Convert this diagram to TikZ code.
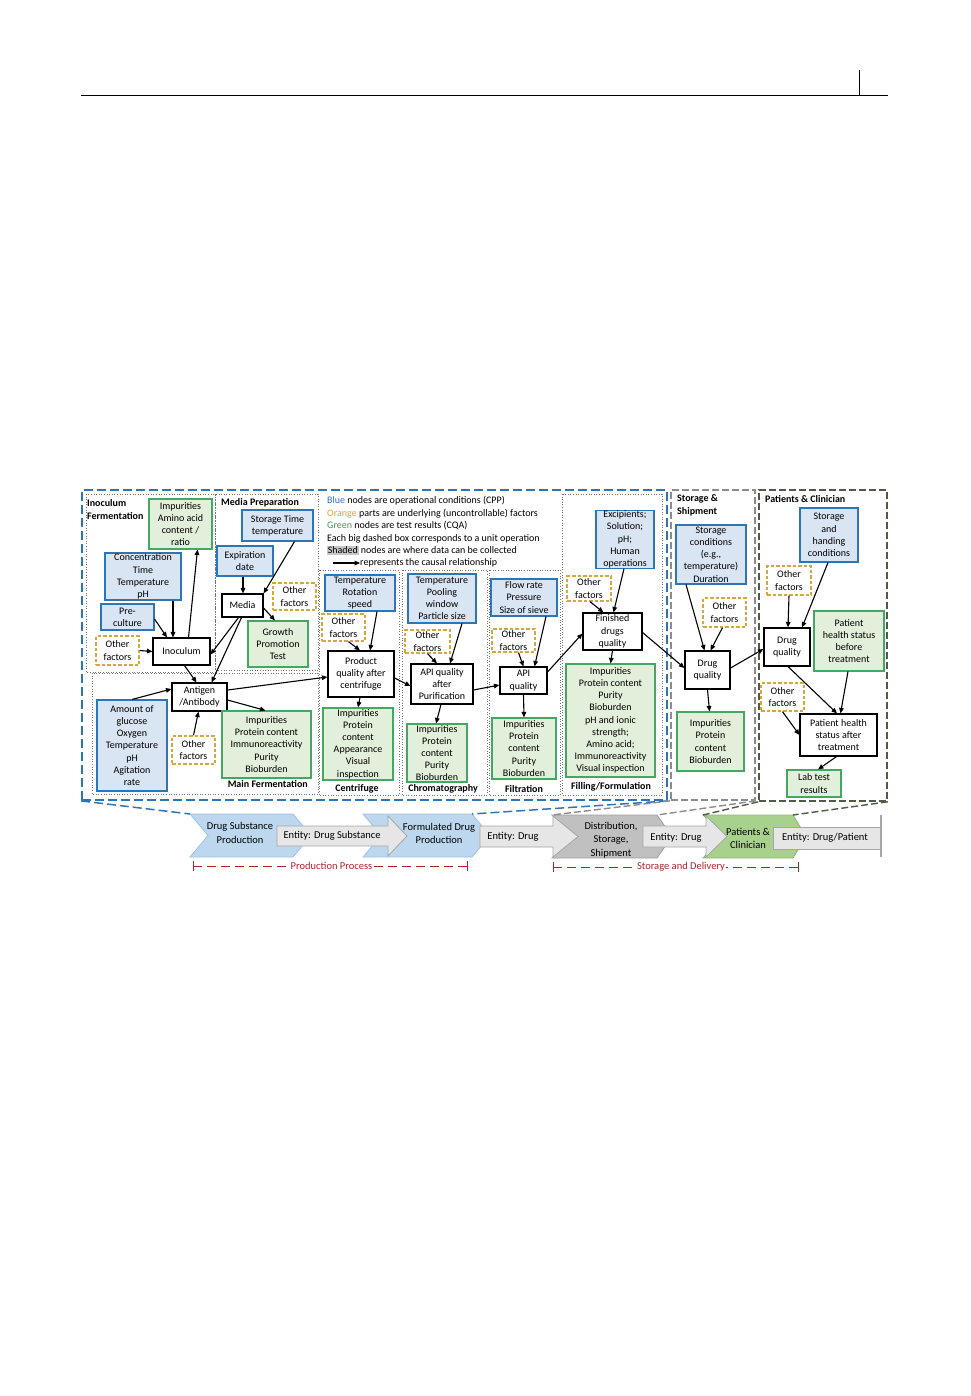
\documentclass[tikz,border=0pt]{standalone}
\usepackage{fontspec}
\setmainfont{Carlito}
\usetikzlibrary{arrows.meta}
\definecolor{bdraw}{HTML}{2E75B6}
\definecolor{bfill}{HTML}{DAE5F3}
\definecolor{gdraw}{HTML}{45A862}
\definecolor{gfill}{HTML}{E2EFDA}
\definecolor{odraw}{HTML}{D6A83A}
\definecolor{legblue}{HTML}{2E75B6}
\definecolor{legorange}{HTML}{E3A135}
\definecolor{leggreen}{HTML}{3D9B5C}
\definecolor{shade}{HTML}{C8C8C8}
\definecolor{bigblue}{HTML}{2E75B6}
\definecolor{biggray}{HTML}{8C8C8C}
\definecolor{bigolive}{HTML}{4F5B47}
\definecolor{chevblue}{HTML}{BDD7EE}
\definecolor{chevbluedraw}{HTML}{9DC3E6}
\definecolor{chevgray}{HTML}{C0C0C0}
\definecolor{chevgraydraw}{HTML}{A0A0A0}
\definecolor{chevgreen}{HTML}{A9D18E}
\definecolor{chevgreendraw}{HTML}{8DBB6E}
\definecolor{entfill}{HTML}{E7E6E6}
\definecolor{entdraw}{HTML}{A6A6A6}
\definecolor{dimred}{HTML}{A8262C}
\tikzset{
 base/.style={font=\fontsize{10}{12.2}\selectfont, align=center, inner sep=0pt, line width=1.1pt},
 sz/.style 2 args={minimum width=#1pt, minimum height=#2pt},
 bn/.style={base, draw=bdraw, fill=bfill},
 gn/.style={base, draw=gdraw, fill=gfill},
 on/.style={base, draw=odraw, fill=white, dash pattern=on 3.5pt off 2pt, line width=1.3pt},
 wn/.style={base, draw=black, fill=white},
 arr/.style={-{Triangle[length=5.5pt,width=4.6pt]}, line width=1.1pt},
 ttl/.style={font=\fontsize{10}{12.8}\selectfont\bfseries, inner sep=0pt, align=left},
 leg/.style={font=\fontsize{10}{12}\selectfont, inner sep=0pt, anchor=west},
 dotbox/.style={draw=black!55, dotted, line width=0.6pt},
 chevtxt/.style={font=\fontsize{10.5}{13.5}\selectfont, align=center, inner sep=0pt},
 ent/.style={fill=entfill, draw=entdraw, line width=0.8pt},
 dimline/.style={draw=dimred, line width=1pt, dash pattern=on 9pt off 5pt},
 dimbar/.style={draw=dimred, line width=1pt},
 dimtxt/.style={font=\fontsize{10.5}{12}\selectfont, text=dimred, inner sep=1pt},
}
\begin{document}
\begin{tikzpicture}[x=1pt,y=-1pt]
\useasboundingbox (0,0) rectangle (970,1396);
% page header
\coordinate (h1) at (81,95); \coordinate (h2) at (888,95);
\coordinate (h3) at (859,70); \coordinate (h4) at (859,95);
\draw[line width=0.9pt] (h1) -- (h2);
\draw[line width=0.8pt] (h3) -- (h4);

% big dashed boxes
\node[draw=bigblue, line width=1.8pt, dash pattern=on 9pt off 4pt, minimum width=585pt, minimum height=310pt, inner sep=0pt] (BB) at (374.5,645) {};
\node[draw=biggray, line width=1.6pt, dash pattern=on 7pt off 3pt, minimum width=84pt, minimum height=310pt, inner sep=0pt] (GB) at (713,645) {};
\node[draw=bigolive, line width=1.6pt, dash pattern=on 7pt off 3pt, minimum width=128pt, minimum height=311pt, inner sep=0pt] (OB) at (823,645.5) {};

% dotted sub-boxes
\draw[dotbox] (86,494) rectangle (215,672);
\draw[dotbox] (215,494) rectangle (318,670);
\draw[dotbox] (92,673) rectangle (318,794);
\draw[dotbox] (319,570) rectangle (399,795);
\draw[dotbox] (402,570) rectangle (487,795);
\draw[dotbox] (489,570) rectangle (560,795);
\draw[dotbox] (562,494) rectangle (662,795);

% titles
\node[ttl, anchor=west] (tIF) at (87,509.5) {Inoculum\\Fermentation};
\node[ttl, anchor=west] (tMP) at (221,503) {Media Preparation};
\node[ttl, anchor=east] (tMF) at (308,784.5) {Main Fermentation};
\node[ttl] (tCe) at (357,789) {Centrifuge};
\node[ttl] (tCh) at (443,789) {Chromatography};
\node[ttl] (tFi) at (524,789) {Filtration};
\node[ttl] (tFF) at (611,787) {Filling/Formulation};
\node[ttl, anchor=west] (tSS) at (677,505.5) {Storage \&\\Shipment};
\node[ttl, anchor=west] (tPC) at (765,499) {Patients \& Clinician};

% legend
\node[leg] (l1) at (327,501) {{\color{legblue}Blue} nodes are operational conditions (CPP)};
\node[leg] (l2) at (327,513.5) {{\color{legorange}Orange} parts are underlying (uncontrollable) factors};
\node[leg] (l3) at (327,526) {{\color{leggreen}Green} nodes are test results (CQA)};
\node[leg] (l4) at (327,538.5) {Each big dashed box corresponds to a unit operation};
\node[leg] (l5) at (327,550.5) {{\fboxsep=0.6pt\colorbox{shade}{Shaded}} nodes are where data can be collected};
\node[leg] (l6) at (360,563) {represents the causal relationship};
\coordinate (l6a) at (333,563);
\draw[arr] (l6a) -- (l6.west);

% Inoculum fermentation
\node[gn, sz={63}{50}] (imp1) at (180.5,524) {Impurities\\Amino acid\\content /\\ratio};
\node[bn, sz={76}{47}] (conc) at (143,576.5) {Concentration\\Time\\Temperature\\pH};
\node[bn, sz={53}{26}] (pre) at (127.5,617) {Pre-\\culture};
\node[on, sz={43}{29}] (of1) at (117.5,650.5) {Other\\factors};
\node[wn, sz={57}{27}] (inoc) at (181.5,651.5) {Inoculum};

% Media preparation
\node[bn, sz={71}{31}] (stt) at (277.5,525.5) {Storage Time\\temperature};
\node[bn, sz={56}{30}] (exp) at (245,561) {Expiration\\date};
\node[wn, sz={41}{23}] (media) at (242.5,605.5) {Media};
\node[on, sz={43}{27}] (of2) at (294.5,596.5) {Other\\factors};
\node[gn, sz={60}{46}] (grow) at (278,644) {Growth\\Promotion\\Test};

% Main fermentation
\node[wn, sz={55}{28}] (ag) at (199.5,697) {Antigen\\/Antibody};
\node[bn, sz={70}{91}] (amt) at (132,745.5) {Amount of\\glucose\\Oxygen\\Temperature\\pH\\Agitation\\rate};
\node[on, sz={43}{28}] (of3) at (193.5,750) {Other\\factors};
\node[gn, sz={89}{67}] (imp2) at (266.5,744.5) {Impurities\\Protein content\\Immunoreactivity\\Purity\\Bioburden};

% Centrifuge
\node[bn, sz={70}{36}] (cen) at (360,593) {Temperature\\Rotation\\speed};
\node[on, sz={43}{27}] (of4) at (343.5,627.5) {Other\\factors};
\node[wn, sz={66}{46}] (pqc) at (361,674) {Product\\quality after\\centrifuge};
\node[gn, sz={70}{72}] (imp3) at (358,744) {Impurities\\Protein\\content\\Appearance\\Visual\\inspection};

% Chromatography
\node[bn, sz={68}{49}] (chb) at (442,598.5) {Temperature\\Pooling\\window\\Particle size};
\node[on, sz={45}{23}] (of5) at (427.5,641.5) {Other\\factors};
\node[wn, sz={62}{40}] (apip) at (442,684) {API quality\\after\\Purification};
\node[gn, sz={60}{58}] (imp4) at (437,753) {Impurities\\Protein\\content\\Purity\\Bioburden};

% Filtration
\node[bn, sz={66}{37}] (fb) at (524,597.5) {Flow rate\\Pressure\\Size of sieve};
\node[on, sz={43}{23}] (of6) at (513.5,640.5) {Other\\factors};
\node[wn, sz={47}{27}] (api) at (523.5,680.5) {API\\quality};
\node[gn, sz={64}{61}] (imp5) at (524,748.5) {Impurities\\Protein\\content\\Purity\\Bioburden};

% Filling / Formulation
\node[bn, sz={58}{57}] (exc) at (625,539.5) {Excipients;\\Solution;\\pH;\\Human\\operations};
\node[on, sz={44}{25}] (of7) at (589,588.5) {Other\\factors};
\node[wn, sz={59}{37}] (fin) at (612.5,631.5) {Finished\\drugs\\quality};
\node[gn, sz={89}{113}] (imp6) at (610.5,720.5) {Impurities\\Protein content\\Purity\\Bioburden\\pH and ionic\\strength;\\Amino acid;\\Immunoreactivity\\Visual inspection};

% Storage & Shipment
\node[bn, sz={70}{59}] (sc) at (711,554.5) {Storage\\conditions\\(e.g.,\\temperature)\\Duration};
\node[on, sz={43}{29}] (of8) at (724.5,612.5) {Other\\factors};
\node[wn, sz={45}{38}] (dq1) at (707.5,670) {Drug\\quality};
\node[gn, sz={67}{59}] (imp7) at (710.5,741.5) {Impurities\\Protein\\content\\Bioburden};

% Patients & Clinician
\node[bn, sz={58}{54}] (sh) at (829,535) {Storage\\and\\handing\\conditions};
\node[on, sz={44}{29}] (of9) at (789,580.5) {Other\\factors};
\node[wn, sz={46}{38}] (dq2) at (787,647) {Drug\\quality};
\node[gn, sz={70}{60}] (pb) at (849,641) {Patient\\health status\\before\\treatment};
\node[on, sz={43}{28}] (of10) at (782.5,697) {Other\\factors};
\node[wn, sz={77}{42}] (pa) at (838.5,735) {Patient health\\status after\\treatment};
\node[gn, sz={54}{27}] (lab) at (814,783.5) {Lab test\\results};

% arrows
\draw[arr] ([xshift=30pt]conc.south) -- ([xshift=-8.5pt]inoc.north);
\draw[arr] ([yshift=-2pt]pre.east) -- ([xshift=-14.5pt]inoc.north);
\draw[arr] (of1.east) -- (inoc.west);
\draw[arr] ([xshift=7pt]inoc.north) -- ([xshift=17pt]imp1.south);
\draw[arr] ([xshift=-4pt]media.south) -- ([yshift=-3pt]inoc.east);
\draw[arr] ([xshift=-1pt]media.south) -- ([xshift=12pt]ag.north);
\draw[arr] ([yshift=-2.5pt]media.east) -- ([xshift=-3pt]grow.north);
\draw[arr] ([xshift=-2pt]exp.south) -- ([xshift=0.5pt]media.north);
\draw[arr] ([xshift=17pt]stt.south) -- (media.north east);
\draw[arr] ([xshift=3pt]inoc.south) -- ([xshift=-3pt]ag.north);
\draw[arr] (amt.north) -- ([yshift=8pt]ag.west);
\draw[arr] (of3.north) -- ([xshift=-1pt]ag.south);
\draw[arr] ([yshift=-3pt]ag.east) -- ([xshift=-1pt]imp2.north);
\draw[arr] ([yshift=7pt]ag.east) -- ([yshift=-3pt]pqc.west);
\draw[arr] ([xshift=17pt]cen.south) -- ([xshift=9pt]pqc.north);
\draw[arr] ([xshift=5pt]of4.south) -- ([xshift=-1pt]pqc.north);
\draw[arr] ([xshift=-1pt]pqc.south) -- (imp3.north);
\draw[arr] ([yshift=-4pt]pqc.east) -- ([yshift=-2pt]apip.west);
\draw[arr] ([xshift=20pt]chb.south) -- ([xshift=8pt]apip.north);
\draw[arr] (of5.south) -- ([xshift=-5pt]apip.north);
\draw[arr] ([xshift=-1pt]apip.south) -- ([xshift=-1pt]imp4.north);
\draw[arr] ([yshift=-6pt]apip.east) -- ([yshift=-4.5pt]api.west);
\draw[arr] ([xshift=22pt]fb.south) -- ([xshift=11pt]api.north);
\draw[arr] ([xshift=5pt]of6.south) -- (api.north);
\draw[arr] (api.south) -- (imp5.north);
\draw[arr] ([yshift=8.5pt]api.east) -- ([yshift=-2pt]fin.west);
\draw[arr] ([xshift=-1pt]exc.south) -- ([xshift=1pt]fin.north);
\draw[arr] ([xshift=1pt]of7.south) -- ([xshift=-9pt]fin.north);
\draw[arr] (fin.south) -- (imp6.north);
\draw[arr] ([yshift=-1pt]fin.east) -- ([yshift=2pt]dq1.west);
\draw[arr] ([xshift=-25pt]sc.south) -- ([xshift=-3pt]dq1.north);
\draw[arr] ([xshift=-2pt]of8.south) -- ([xshift=3pt]dq1.north);
\draw[arr] (dq1.south) -- ([xshift=-1pt]imp7.north);
\draw[arr] ([yshift=2pt]dq1.east) -- ([yshift=-2pt]dq2.west);
\draw[arr] ([xshift=-1pt]sh.south) -- ([xshift=15pt]dq2.north);
\draw[arr] (of9.south) -- ([xshift=1pt]dq2.north);
\draw[arr] ([xshift=1pt]dq2.south) -- ([xshift=-1.5pt]pa.north);
\draw[arr] ([xshift=-1pt]pb.south) -- ([xshift=2pt]pa.north);
\draw[arr] (of10.south) -- (pa.west);
\draw[arr] ([xshift=-2pt]pa.south) -- ([xshift=4pt]lab.north);

% bottom process bar: chevrons
\coordinate (c1tl) at (190,814); \coordinate (c1tr) at (293,814);
\fill[chevblue, draw=chevbluedraw, line width=0.8pt] (c1tl) -- (c1tr) -- (311,835.5) -- (293,857) -- (190,857) -- (208,835.5) -- cycle;
\coordinate (c2tl) at (363,814); \coordinate (c2tr) at (472,814);
\fill[chevblue, draw=chevbluedraw, line width=0.8pt] (c2tl) -- (c2tr) -- (490,835.5) -- (472,857) -- (363,857) -- (381,835.5) -- cycle;
\coordinate (c3tl) at (552,815); \coordinate (c3tr) at (657,815);
\fill[chevgray, draw=chevgraydraw, line width=0.8pt] (c3tl) -- (c3tr) -- (672,836.5) -- (657,858) -- (552,858) -- (572,836.5) -- cycle;
\coordinate (c4tl) at (703,815); \coordinate (c4tr) at (793,815);
\fill[chevgreen, draw=chevgreendraw, line width=0.8pt] (c4tl) -- (c4tr) -- (806,836.5) -- (793,858) -- (703,858) -- (724,836.5) -- cycle;

% entity arrows
\filldraw[ent] (277,826) -- (388,826) -- (388,816) -- (407,836) -- (388,856) -- (388,846) -- (277,846) -- cycle;
\filldraw[ent] (480,826) -- (553,826) -- (553,816) -- (578,836.5) -- (553,857) -- (553,847) -- (480,847) -- cycle;
\filldraw[ent] (643,826) -- (706,826) -- (706,816) -- (727,836.5) -- (706,857) -- (706,847) -- (643,847) -- cycle;
\filldraw[ent] (773,827) -- (880,827) -- (880,849) -- (773,849) -- cycle;
\coordinate (barT) at (881,815); \coordinate (barB) at (881,857);
\draw[entdraw, line width=1.6pt] (barT) -- (barB);

% texts of the process bar
\node[chevtxt] (ch1) at (240,833) {Drug Substance\\Production};
\node[chevtxt] (en1) at (332,836) {Entity: Drug Substance};
\node[chevtxt] (ch2) at (439,833.5) {Formulated Drug\\Production};
\node[chevtxt] (en2) at (513,836.5) {Entity: Drug};
\node[chevtxt] (ch3) at (611,840) {Distribution,\\Storage,\\Shipment};
\node[chevtxt] (en3) at (676,837.5) {Entity: Drug};
\node[chevtxt] (ch4) at (748,838.5) {Patients \&\\Clinician};
\node[chevtxt] (en4) at (825,838) {Entity: Drug/Patient};

% zoom lines from unit boxes to the process bar
\draw[bigblue, line width=1.5pt, dash pattern=on 9pt off 4pt] (BB.south west) -- (c1tl);
\draw[bigblue, line width=1.5pt, dash pattern=on 9pt off 4pt] (BB.south east) -- (c2tr);
\draw[biggray, line width=1.4pt, dash pattern=on 7pt off 3pt] (GB.south west) -- (c3tl);
\draw[biggray, line width=1.4pt, dash pattern=on 7pt off 3pt] (GB.south east) -- (c3tr);
\draw[bigolive, line width=1.4pt, dash pattern=on 7pt off 3pt] (OB.south west) -- (c4tl);
\draw[bigolive, line width=1.4pt, dash pattern=on 7pt off 3pt] (OB.south east) -- (c4tr);

% dimension lines
\coordinate (p1) at (193,866); \coordinate (p2) at (467,866);
\node[dimtxt] (pt) at (331.5,866) {Production Process};
\draw[dimline] (p1) -- (pt.west);
\draw[dimline] (p2) -- (pt.east);
\draw[dimbar] (193,861) -- (193,871);
\draw[dimbar] (467,861) -- (467,871);
\coordinate (s1) at (553,867); \coordinate (s2) at (798,867);
\node[dimtxt] (st) at (681,867) {Storage and Delivery};
\draw[dimline] (s1) -- (st.west);
\draw[dimline] (s2) -- (st.east);
\draw[dimbar] (553,862) -- (553,872);
\draw[dimbar] (798,862) -- (798,872);
\end{tikzpicture}
\end{document}
